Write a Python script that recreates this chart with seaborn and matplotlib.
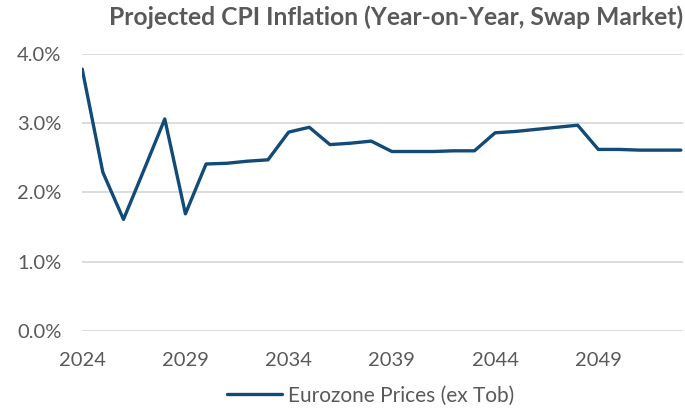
import pandas as pd
import matplotlib.pyplot as plt
import seaborn as sns
from matplotlib.ticker import PercentFormatter

years = list(range(2024, 2054))
cpi = [3.78, 2.29, 1.61, 2.33, 3.06, 1.69, 2.41, 2.42, 2.45, 2.47,
       2.87, 2.94, 2.69, 2.71, 2.74, 2.59, 2.59, 2.59, 2.60, 2.60,
       2.86, 2.88, 2.91, 2.94, 2.97, 2.62, 2.62, 2.61, 2.61, 2.61]
tick_years = [2024, 2029, 2034, 2039, 2044, 2049]
series_name = 'Eurozone Prices (ex Tob)'

df = pd.DataFrame({'year': years, 'cpi': cpi, 'series': series_name})

sns.set_style('white')
plt.rcParams['font.family'] = ['Lato', 'DejaVu Sans']
grey = '#595959'

fig = plt.figure(figsize=(6.85, 4.08), dpi=100)
ax = fig.add_axes([0.120, 0.189, 0.877, 0.679])
sns.lineplot(data=df, x='year', y='cpi', hue='series', palette=['#124A78'],
             linewidth=2.4, ax=ax)

ax.set_xlim(2024, 2053.1)
ax.set_ylim(0, 4)
ax.set_yticks([0, 1, 2, 3, 4])
ax.yaxis.set_major_formatter(PercentFormatter(decimals=1))
ax.set_xticks(tick_years)
ax.grid(axis='y', color='#D9D9D9', linewidth=1.3)
ax.set_axisbelow(True)
for s in ax.spines.values():
    s.set_visible(False)
ax.tick_params(axis='both', length=0, labelsize=14.5, colors=grey)
ax.tick_params(axis='y', pad=15)
ax.tick_params(axis='x', pad=15)
ax.set_xlabel('')
ax.set_ylabel('')

leg = ax.legend(loc='center', bbox_to_anchor=(0.48, -0.233), frameon=False,
                fontsize=15, handlelength=2.65, handletextpad=0.25)
for t in leg.get_texts():
    t.set_color(grey)

fig.text(0.997, 0.9387, 'Projected CPI Inflation (Year-on-Year, Swap Market)',
         ha='right', va='baseline', fontsize=17.7, fontweight='bold', color=grey)

fig.savefig('out.png', dpi=100)
